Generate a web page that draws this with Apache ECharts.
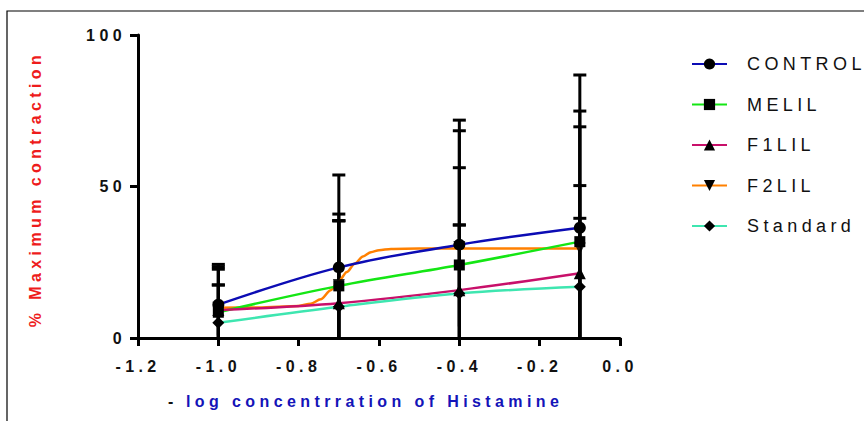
<!DOCTYPE html>
<html>
<head>
<meta charset="utf-8">
<script src="https://cdn.jsdelivr.net/npm/echarts@6/dist/echarts.min.js"></script>
<style>
  html, body { margin: 0; padding: 0; background: #fff; }
  #chart { width: 864px; height: 421px; }
  /* the original uses widely spaced lettering */
  #chart svg text { letter-spacing: 4.4px; }
</style>
</head>
<body>
<div id="chart"></div>
<script>
const seriesNames = ["CONTROL", "MELIL", "F1LIL", "F2LIL", "Standard"];
const xValues = [-1.0, -0.7, -0.4, -0.1];

// mean values
const controlMean = [11, 23.3, 30.8, 36.4];
const melilMean = [8.5, 17.2, 24.1, 31.8];
const f1lilMean = [9.2, 11.5, 15.8, 21.4];
const f2lilMean = [10, 17.5, 30, 29.5];
const standardMean = [5, 10.3, 14.7, 16.9];

// top of the error bars
const controlUpper = [24.3, 53.8, 71.9, 86.8];
const melilUpper = [22.7, 40.9, 68.4, 74.9];
const f1lilUpper = [17.5, 38.7, 37.3, 50.3];
const f2lilUpper = [23.5, 38.7, 56.2, 69.7];
const standardUpper = [17.5, 38.7, 37.3, 39.5];

// F2LIL fitted curve
const f2lilCurveX = [-1.0, -0.9, -0.8, -0.77, -0.745, -0.72, -0.7, -0.68, -0.66, -0.64, -0.62, -0.6, -0.57, -0.5, -0.1];
const f2lilCurveY = [10, 10.1, 10.6, 11.3, 12.8, 15.8, 18.8, 21.8, 24.6, 26.9, 28.3, 29.0, 29.4, 29.5, 29.5];

const xTicks = { min: -1.2, max: 0, interval: 0.2 };
const yTicks = { min: 0, max: 100, interval: 50 };

const lineColors = ["#0c0cb4", "#14e614", "#c8106a", "#ff8000", "#3ee6b0"];
const symbols = ["circle", "rect", "triangle", "triangle", "diamond"];
const rotations = [0, 0, 0, 180, 0];

const means = [controlMean, melilMean, f1lilMean, f2lilMean, standardMean];
const uppers = [controlUpper, melilUpper, f1lilUpper, f2lilUpper, standardUpper];

const font = "Liberation Sans, Arial, sans-serif";

function pairs(xs, ys) {
  return xs.map((x, i) => [x, ys[i]]);
}

// error bar data: [x, low, high]
const errData = [];
means.forEach((m, s) => {
  m.forEach((v, i) => {
    const sd = uppers[s][i] - v;
    errData.push([xValues[i], Math.max(0, v - sd), uppers[s][i]]);
  });
});

const chart = echarts.init(document.getElementById("chart"), null, { renderer: "svg" });

const series = [
  {
    type: "custom",
    name: "err",
    silent: true,
    z: 1,
    data: errData,
    renderItem(params, api) {
      const x = api.value(0);
      const lo = api.coord([x, api.value(1)]);
      const hi = api.coord([x, api.value(2)]);
      const style = { stroke: "#000", lineWidth: 3 };
      return {
        type: "group",
        children: [
          { type: "line", shape: { x1: lo[0], y1: lo[1], x2: hi[0], y2: hi[1] }, style },
          { type: "line", shape: { x1: hi[0] - 6.5, y1: hi[1], x2: hi[0] + 6.5, y2: hi[1] }, style },
        ],
      };
    },
  },
];

seriesNames.forEach((name, s) => {
  if (name === "F2LIL") {
    series.push({
      type: "line",
      name,
      z: 3,
      smooth: 0.3,
      smoothMonotone: "x",
      showSymbol: false,
      symbol: symbols[s],
      symbolRotate: rotations[s],
      symbolSize: 12,
      itemStyle: { color: "#000" },
      lineStyle: { color: lineColors[s], width: 2.5 },
      data: pairs(f2lilCurveX, f2lilCurveY),
    });
    series.push({
      type: "scatter",
      name,
      z: 5,
      symbol: symbols[s],
      symbolRotate: rotations[s],
      symbolSize: 12,
      itemStyle: { color: "#000" },
      data: pairs(xValues, means[s]),
    });
  } else {
    series.push({
      type: "line",
      name,
      z: 4,
      smooth: 0.35,
      symbol: symbols[s],
      symbolRotate: rotations[s],
      symbolSize: s === 1 ? 11 : 12,
      itemStyle: { color: "#000" },
      lineStyle: { color: lineColors[s], width: 2.5 },
      data: pairs(xValues, means[s]),
    });
  }
});

const option = {
  animation: false,
  grid: { left: 138, right: 244, top: 35, bottom: 83 },
  legend: {
    data: seriesNames,
    orient: "vertical",
    left: 686,
    top: 50,
    itemWidth: 35,
    itemHeight: 14,
    itemGap: 22.5,
    textStyle: { fontFamily: font, fontSize: 18, color: "#111", padding: [0, 0, 0, 15] },
  },
  xAxis: {
    type: "value",
    min: xTicks.min,
    max: xTicks.max,
    interval: xTicks.interval,
    splitLine: { show: false },
    axisLine: { show: true, onZero: false, lineStyle: { color: "#000", width: 3 } },
    axisTick: { show: true, length: 8, lineStyle: { color: "#000", width: 3 } },
    axisLabel: {
      margin: 20,
      fontFamily: font,
      fontSize: 16,
      fontWeight: "bold",
      color: "#111",
      formatter: (v) => v.toFixed(1),
    },
  },
  yAxis: {
    type: "value",
    min: yTicks.min,
    max: yTicks.max,
    interval: yTicks.interval,
    splitLine: { show: false },
    axisLine: { show: true, onZero: false, lineStyle: { color: "#000", width: 3 } },
    axisTick: { show: true, length: 8, lineStyle: { color: "#000", width: 3 } },
    axisLabel: {
      margin: 12,
      fontFamily: font,
      fontSize: 16,
      fontWeight: "bold",
      color: "#111",
    },
  },
  graphic: [
    {
      type: "rect",
      silent: true,
      shape: { x: 7, y: 11, width: 900, height: 450 },
      style: { fill: null, stroke: "#000", lineWidth: 1.2 },
    },
    {
      type: "text",
      x: 35,
      y: 189,
      rotation: Math.PI / 2,
      style: {
        text: "% Maximum contraction",
        fill: "#ee1c1c",
        font: "bold 16px " + font,
        align: "center",
        verticalAlign: "middle",
      },
    },
    {
      type: "text",
      x: 168,
      y: 401,
      style: { text: "-", fill: "#111", font: "bold 16px " + font, verticalAlign: "middle" },
    },
    {
      type: "text",
      x: 186,
      y: 401,
      style: {
        text: "log concentrration of Histamine",
        fill: "#1414b8",
        font: "bold 16px " + font,
        verticalAlign: "middle",
      },
    },
  ],
  series,
};

chart.setOption(option);
</script>
</body>
</html>
